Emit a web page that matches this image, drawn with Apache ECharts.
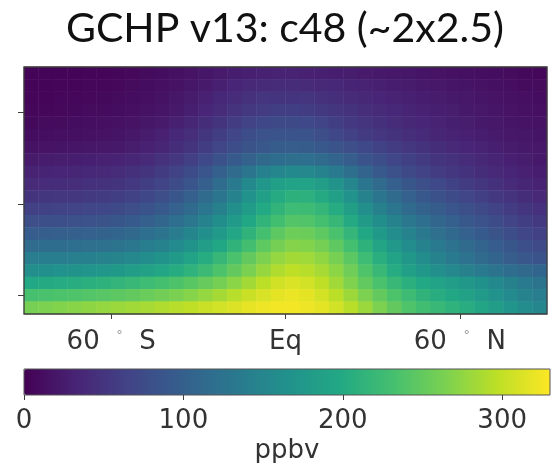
<!DOCTYPE html>
<html>
<head>
<meta charset="utf-8">
<title>GCHP v13: c48 (~2x2.5)</title>
<script src="https://cdn.jsdelivr.net/npm/echarts@6/dist/echarts.min.js"></script>
<style>
html, body { margin: 0; padding: 0; background: #fff; }
#main { width: 551px; height: 463px; }
</style>
</head>
<body>
<div id="main"></div>
<script>
// latitude bin centres (deg), S -> N
var lats = [-87.5, -82.5, -77.5, -72.5, -67.5, -62.5, -57.5, -52.5, -47.5, -42.5,
            -37.5, -32.5, -27.5, -22.5, -17.5, -12.5, -7.5, -2.5, 2.5, 7.5,
            12.5, 17.5, 22.5, 27.5, 32.5, 37.5, 42.5, 47.5, 52.5, 57.5,
            62.5, 67.5, 72.5, 77.5, 82.5, 87.5];
// level centres (km), surface first
var levelKm = [0.7, 2.0, 3.4, 4.7, 6.1, 7.4, 8.8, 10.1, 11.5, 12.8,
               14.2, 15.5, 16.9, 18.2, 19.6, 20.9, 22.3, 23.6, 25.0, 26.3];
// zonal mean (ppbv) - rows from top level down to surface, columns S -> N
var conc = [
  [3, 3, 4, 4, 5, 5, 6, 7, 9, 11, 14, 17, 20, 24, 27, 29, 30, 31, 31, 30, 29, 27, 26, 24, 23, 21, 20, 18, 17, 15, 14, 12, 11, 9, 8, 6],
  [4, 4, 5, 5, 6, 6, 7, 9, 11, 13, 16, 20, 24, 29, 34, 38, 40, 41, 41, 40, 38, 36, 33, 31, 29, 27, 25, 23, 21, 19, 18, 16, 14, 12, 10, 9],
  [5, 5, 6, 6, 7, 8, 9, 11, 13, 16, 20, 25, 30, 36, 41, 46, 49, 50, 50, 49, 46, 43, 40, 37, 34, 31, 29, 27, 25, 23, 21, 19, 17, 15, 13, 11],
  [6, 6, 7, 8, 9, 10, 11, 13, 16, 19, 23, 28, 34, 41, 48, 54, 58, 60, 60, 59, 55, 51, 47, 43, 39, 36, 33, 30, 28, 26, 23, 21, 19, 17, 15, 13],
  [8, 9, 10, 11, 12, 13, 15, 17, 20, 24, 29, 35, 42, 50, 58, 65, 70, 73, 73, 71, 66, 60, 54, 49, 45, 41, 37, 34, 31, 28, 26, 23, 21, 19, 17, 16],
  [11, 12, 13, 14, 15, 16, 18, 21, 25, 30, 36, 43, 51, 60, 69, 77, 83, 86, 86, 84, 78, 70, 63, 57, 52, 47, 43, 39, 35, 32, 29, 27, 24, 22, 20, 18],
  [16, 17, 18, 19, 20, 21, 23, 26, 30, 35, 42, 50, 59, 68, 77, 85, 91, 95, 96, 95, 91, 85, 78, 71, 64, 58, 52, 47, 42, 38, 34, 31, 28, 25, 23, 21],
  [24, 25, 26, 27, 28, 30, 32, 35, 40, 46, 53, 61, 71, 82, 93, 103, 112, 118, 120, 119, 114, 106, 96, 86, 77, 69, 62, 56, 50, 46, 41, 37, 33, 29, 26, 23],
  [32, 33, 34, 35, 36, 38, 41, 45, 50, 57, 65, 75, 87, 100, 115, 130, 143, 152, 155, 153, 146, 134, 120, 105, 92, 81, 72, 65, 58, 52, 47, 42, 38, 34, 30, 27],
  [40, 41, 42, 43, 45, 47, 50, 54, 60, 67, 76, 87, 100, 116, 134, 154, 172, 185, 190, 189, 182, 168, 150, 130, 113, 99, 88, 79, 71, 64, 57, 51, 45, 40, 35, 32],
  [50, 51, 52, 53, 55, 57, 60, 64, 70, 78, 88, 99, 113, 129, 147, 167, 186, 201, 210, 209, 200, 186, 167, 146, 128, 113, 101, 91, 82, 75, 68, 61, 54, 48, 42, 38],
  [63, 64, 65, 66, 68, 70, 73, 78, 84, 92, 102, 114, 128, 144, 162, 181, 199, 214, 225, 224, 216, 202, 184, 163, 144, 128, 115, 104, 95, 87, 79, 72, 65, 58, 51, 46],
  [78, 79, 80, 81, 83, 85, 88, 93, 100, 108, 119, 131, 145, 161, 178, 196, 214, 229, 240, 239, 231, 218, 200, 180, 161, 145, 131, 119, 108, 99, 91, 83, 75, 67, 60, 55],
  [97, 98, 99, 100, 102, 104, 107, 112, 119, 127, 137, 149, 163, 178, 195, 213, 231, 246, 256, 255, 247, 234, 216, 196, 177, 160, 145, 132, 121, 111, 102, 93, 85, 77, 69, 63],
  [116, 117, 118, 119, 121, 123, 126, 131, 138, 146, 156, 168, 182, 197, 213, 230, 247, 261, 269, 268, 261, 248, 231, 211, 192, 175, 160, 146, 134, 124, 115, 106, 97, 88, 80, 74],
  [138, 139, 140, 141, 143, 145, 148, 153, 160, 168, 178, 190, 203, 218, 234, 250, 265, 277, 284, 282, 275, 262, 245, 225, 206, 189, 173, 159, 146, 134, 124, 114, 105, 96, 89, 84],
  [162, 164, 166, 168, 170, 173, 177, 182, 188, 195, 203, 212, 223, 236, 250, 264, 278, 290, 297, 294, 286, 273, 257, 238, 219, 202, 187, 174, 163, 153, 144, 135, 126, 118, 112, 107],
  [198, 200, 202, 205, 208, 211, 215, 220, 225, 231, 237, 244, 252, 261, 272, 284, 296, 307, 312, 308, 298, 283, 266, 249, 234, 220, 208, 198, 190, 182, 174, 165, 154, 144, 135, 127],
  [232, 234, 236, 238, 240, 243, 246, 250, 254, 259, 264, 270, 277, 285, 294, 303, 311, 317, 320, 317, 309, 296, 281, 265, 250, 236, 224, 213, 204, 196, 188, 178, 167, 156, 146, 138],
  [262, 265, 268, 271, 274, 277, 280, 283, 286, 290, 294, 298, 303, 308, 313, 318, 322, 325, 325, 322, 317, 308, 295, 280, 265, 250, 238, 228, 220, 212, 204, 194, 182, 170, 158, 150]
];
var latTicks = [-60, 0, 60];
var latLabels = ['60  {d|°}  S', 'Eq', '60  {d|°}  N'];
var altTicks = [2, 12, 22];
var cbTicks = [0, 100, 200, 300];
var cbMax = 330;
var viridis = ['#440154', '#482475', '#414487', '#355f8d', '#2a788e', '#21918c',
               '#22a884', '#44bf70', '#7ad151', '#bddf26', '#fde725'];

var data = [];
for (var i = 0; i < conc.length; i++) {
    for (var j = 0; j < conc[i].length; j++) {
        data.push([j, conc.length - 1 - i, conc[i][j]]);
    }
}

var lineCol = '#3d3d3d';
var txtCol = '#333';

var myChart = echarts.init(document.getElementById('main'));
var option = {
    backgroundColor: '#fff',
    animation: false,
    title: {
        text: 'GCHP v13: c48 (~2x2.5)',
        left: 61,
        top: 3,
        textStyle: {fontFamily: 'Lato', fontSize: 41, fontWeight: 'normal', color: '#111'}
    },
    // frames drawn by the grids themselves, above the cells and the bar
    grid: [
        {left: 24, top: 67, width: 523, height: 247, outerBoundsMode: 'none',
         show: true, z: 10, backgroundColor: 'transparent', borderColor: lineCol, borderWidth: 1.3},
        {left: 24, top: 369, width: 526, height: 26, outerBoundsMode: 'none',
         show: true, z: 10, backgroundColor: 'transparent', borderColor: '#555', borderWidth: 1}
    ],
    xAxis: [
        {type: 'category', gridIndex: 0, data: lats, show: false},
        {
            type: 'value', gridIndex: 0, position: 'bottom', min: -90, max: 90, z: 10,
            axisLine: {show: false},
            axisTick: {show: true, customValues: latTicks, length: 5, lineStyle: {color: lineCol}},
            axisLabel: {
                customValues: latTicks, margin: 15,
                fontFamily: 'DejaVu Sans', fontSize: 26, color: txtCol,
                formatter: function (v) { return latLabels[latTicks.indexOf(v)]; },
                rich: {d: {fontFamily: 'DejaVu Sans', fontSize: 13, color: '#999', verticalAlign: 'top'}}
            },
            splitLine: {show: false}
        },
        {
            type: 'value', gridIndex: 1, position: 'bottom', min: 0, max: cbMax, z: 10,
            axisLine: {show: false},
            axisTick: {show: true, customValues: cbTicks, length: 5, lineStyle: {color: lineCol}},
            axisLabel: {customValues: cbTicks, margin: 13, fontFamily: 'DejaVu Sans', fontSize: 26, color: txtCol},
            splitLine: {show: false},
            name: 'ppbv', nameLocation: 'middle', nameGap: 43,
            nameTextStyle: {fontFamily: 'DejaVu Sans', fontSize: 26, color: txtCol}
        }
    ],
    yAxis: [
        {type: 'category', gridIndex: 0, data: levelKm, show: false},
        {
            type: 'value', gridIndex: 0, position: 'left', min: 0, max: 27, z: 10,
            axisLine: {show: false},
            axisTick: {show: true, customValues: altTicks, length: 6, lineStyle: {color: lineCol}},
            axisLabel: {show: false},
            splitLine: {show: false}
        },
        {type: 'value', gridIndex: 1, min: 0, max: 1, show: false}
    ],
    visualMap: {
        type: 'continuous',
        min: 0,
        max: cbMax,
        seriesIndex: 0,
        orient: 'horizontal',
        left: 24,
        top: 369,
        itemWidth: 26,
        itemHeight: 526,
        padding: 0,
        calculable: false,
        hoverLink: false,
        inRange: {color: viridis}
    },
    series: [{
        type: 'heatmap',
        xAxisIndex: 0,
        yAxisIndex: 0,
        data: data,
        progressive: 0,
        emphasis: {disabled: true}
    }]
};
myChart.setOption(option);
</script>
</body>
</html>
